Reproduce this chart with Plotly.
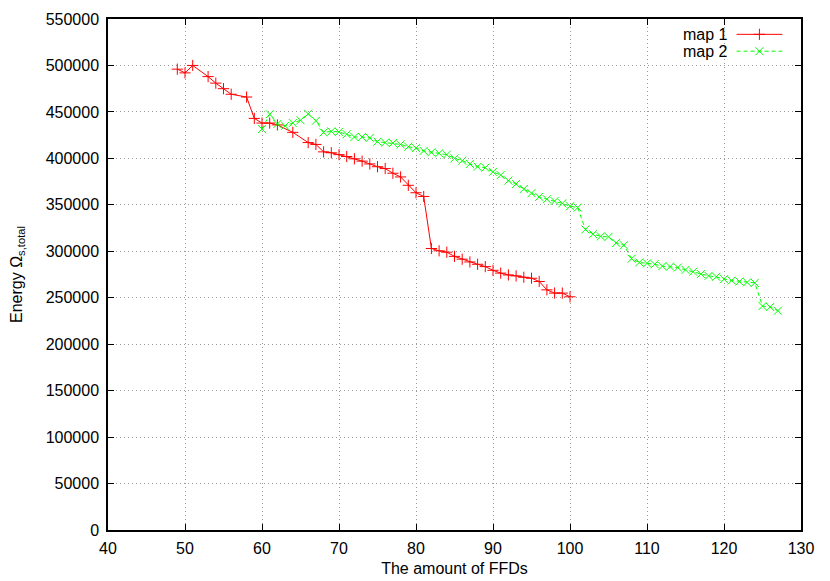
import plotly.graph_objects as go

# map 1 (red, solid)
map1_ffds = [49, 50, 51, 53, 54, 55, 56, 58, 59, 60, 61, 62, 64, 66, 67, 68, 69, 70,
             71, 72, 73, 74, 75, 76, 77, 78, 79, 80, 81, 82, 83, 84, 85, 86, 87, 88,
             89, 90, 91, 92, 93, 94, 95, 96, 97, 98, 99, 100]
map1_energy = [496000, 492000, 500000, 488000, 481000, 475000, 469000, 466000, 443000,
               438000, 438000, 436000, 428000, 417000, 415000, 407000, 406000, 404000,
               402000, 399500, 397000, 394000, 391000, 389000, 384000, 380000, 371000,
               363000, 359000, 303000, 300500, 299000, 294500, 291500, 288500, 286000,
               283500, 279500, 276500, 274500, 273500, 272000, 271000, 267500, 258500,
               255000, 255000, 251000]

# map 2 (green, dashed)
map2_ffds = [60, 61, 62, 63, 64, 65, 66, 67, 68, 69, 70, 71, 72, 73, 74, 75, 76, 77,
             78, 79, 80, 81, 82, 83, 84, 85, 86, 87, 88, 89, 90, 91, 92, 93, 94, 95,
             96, 97, 98, 99, 100, 101, 102, 103, 104, 105, 106, 107, 108, 109, 110,
             111, 112, 113, 114, 115, 116, 117, 118, 119, 120, 121, 122, 123, 124,
             125, 126, 127]
map2_energy = [431500, 447500, 437000, 435000, 438000, 441000, 448000, 440500, 428000,
               429000, 428500, 426000, 423000, 423000, 422000, 418000, 417000, 416500,
               415000, 412500, 411000, 408000, 406500, 405500, 404000, 400000, 397500,
               394000, 391000, 390000, 385500, 382000, 376000, 372500, 367000, 362500,
               358500, 356000, 354000, 351500, 348500, 347000, 323500, 318500, 316000,
               315500, 309000, 306500, 292000, 288000, 287000, 286000, 284000, 283500,
               282500, 280000, 278000, 275500, 273500, 272500, 270000, 268500, 267500,
               266500, 266000, 241000, 240000, 236000]

series_names = ["map 1", "map 2"]
x_ticks = [40, 50, 60, 70, 80, 90, 100, 110, 120, 130]
y_ticks = [0, 50000, 100000, 150000, 200000, 250000, 300000, 350000, 400000, 450000,
           500000, 550000]

# gnuplot-style key (text left of the sample), in fractions of the plot area
key_rows = [0.970, 0.937]
key_line = [0.907, 0.973]
key_text_x = 0.898

FONT = "Liberation Sans, Arial, sans-serif"
FS = 16
RED = "#ff0000"
GREEN = "#00ff00"

fig = go.Figure()

fig.add_trace(go.Scatter(
    x=map1_ffds, y=map1_energy, mode="lines+markers", name=series_names[0],
    line=dict(color=RED, width=1),
    marker=dict(symbol="cross-thin-open", size=8, color=RED, line=dict(color=RED, width=1)),
    showlegend=False,
))
fig.add_trace(go.Scatter(
    x=map2_ffds, y=map2_energy, mode="lines+markers", name=series_names[1],
    line=dict(color=GREEN, width=1, dash="4px,3px"),
    marker=dict(symbol="x-thin-open", size=8, color=GREEN, line=dict(color=GREEN, width=1)),
    showlegend=False,
))

# key samples on an overlay axis spanning 0..1
styles = [
    (RED, "solid", "cross-thin-open", 8),
    (GREEN, "4px,3px", "x-thin-open", 8),
]
for row, name, (col, dash, sym, size) in zip(key_rows, series_names, styles):
    fig.add_trace(go.Scatter(
        x=key_line, y=[row, row], mode="lines", xaxis="x2", yaxis="y2",
        line=dict(color=col, width=1, dash=dash), showlegend=False, hoverinfo="skip",
    ))
    fig.add_trace(go.Scatter(
        x=[sum(key_line) / 2], y=[row], mode="markers", xaxis="x2", yaxis="y2",
        marker=dict(symbol=sym, size=size, color=col, line=dict(color=col, width=1)),
        showlegend=False, hoverinfo="skip",
    ))
    fig.add_annotation(
        x=key_text_x, y=row, xref="x2", yref="y2", text=name, showarrow=False,
        xanchor="right", yanchor="middle", font=dict(family=FONT, size=FS, color="black"),
    )

axis_common = dict(
    showline=True, linecolor="black", linewidth=1.5, mirror="ticks",
    ticks="inside", ticklen=6, tickwidth=1, tickcolor="black",
    showgrid=True, gridcolor="#9a9a9a", griddash="1px,3px", gridwidth=1,
    zeroline=False, tickfont=dict(family=FONT, size=FS, color="black"),
    automargin=False,
)

fig.update_xaxes(
    range=[40, 130], tickvals=x_ticks, tickformat="d", ticklabelstandoff=3,
    title=dict(text="The amount of FFDs", font=dict(family=FONT, size=FS, color="black"),
               standoff=7),
    **axis_common,
)
fig.update_yaxes(
    range=[0, 550000], tickvals=y_ticks, tickformat="d", ticklabelstandoff=4,
    title=dict(text="Energy Ω<sub>s,total</sub>",
               font=dict(family=FONT, size=FS, color="black"), standoff=31),
    **axis_common,
)

# the page puts the figure 8px in from the top-left corner
fig.update_layout(
    width=822, height=573,
    margin=dict(l=100, r=29, t=11, b=51),
    plot_bgcolor="white", paper_bgcolor="white",
    font=dict(family=FONT, size=FS, color="black"),
    xaxis2=dict(overlaying="x", range=[0, 1], visible=False, fixedrange=True),
    yaxis2=dict(overlaying="y", range=[0, 1], visible=False, fixedrange=True),
    showlegend=False,
)

fig.write_html("out.html")
